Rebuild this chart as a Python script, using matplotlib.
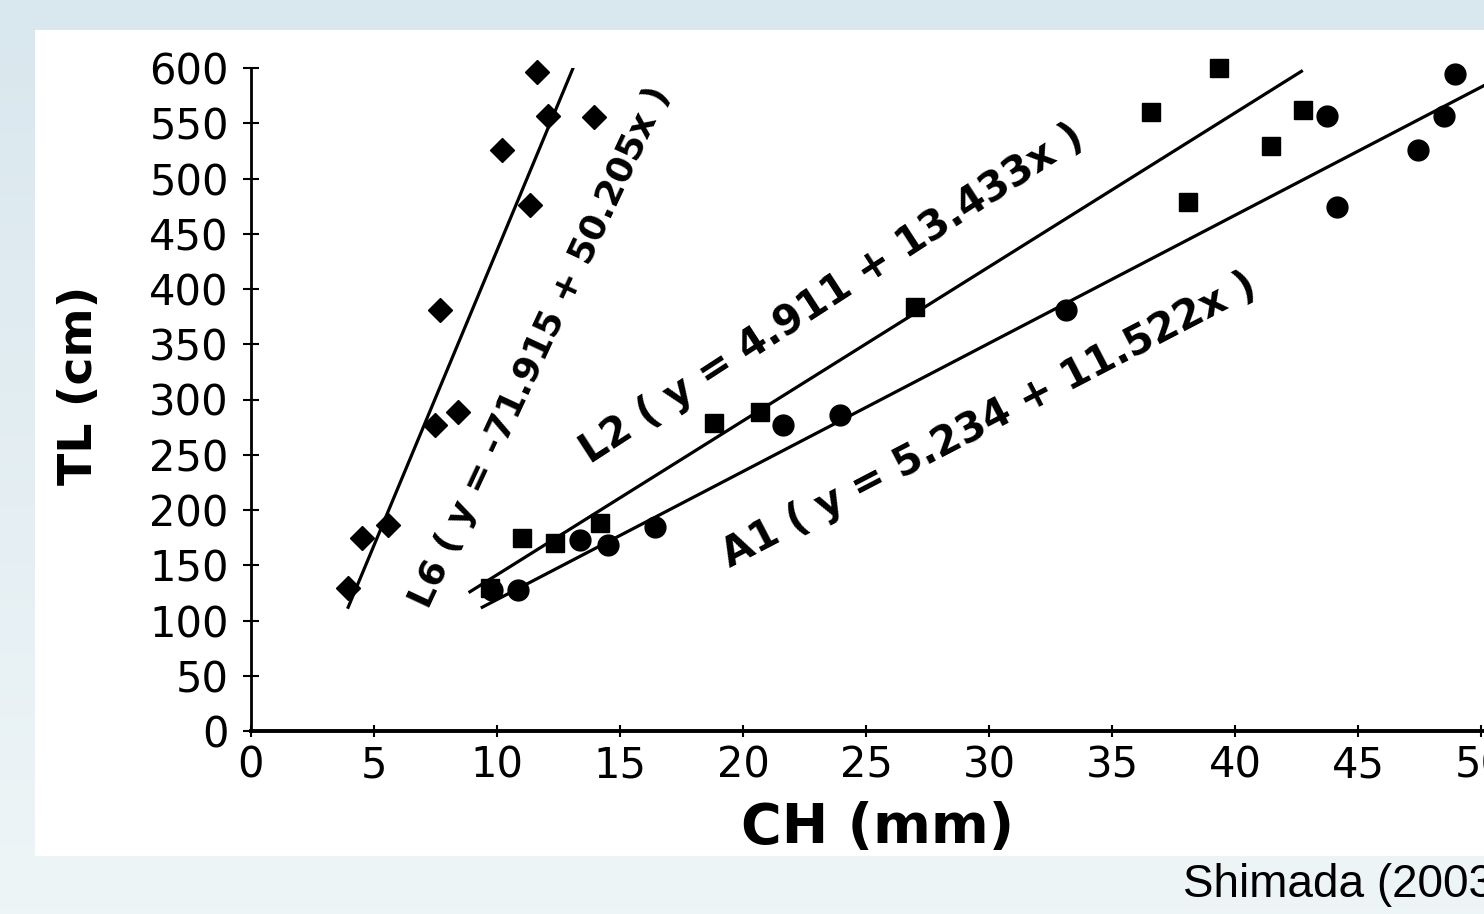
import numpy as np
import matplotlib
matplotlib.use("Agg")
import matplotlib.pyplot as plt
from matplotlib.patches import Rectangle

# données (CH en mm, TL en cm)
l6_ch = [3.94, 4.51, 5.57, 7.48, 7.68, 8.41, 10.2, 11.34, 11.63, 12.07, 13.94]
l6_tl = [129, 175, 186, 277, 381, 289, 526, 476, 596, 557, 556]

l2_ch = [9.72, 11.02, 12.36, 14.19, 18.82, 20.69, 26.99, 36.59, 38.09, 39.35, 41.46, 42.76]
l2_tl = [129, 175, 170, 188, 279, 289, 384, 560, 479, 600, 529, 562]

a1_ch = [9.8, 10.85, 13.37, 14.51, 16.42, 21.63, 23.94, 33.13, 43.74, 44.15, 47.44, 48.5, 48.94]
a1_tl = [128, 128, 173, 168, 185, 277, 286, 381, 557, 474, 526, 557, 595]

# extrémités des droites de régression telles que tracées
l6_line_x = [3.95, 13.15]
l6_line_y = [112, 603]
l2_line_x = [8.9, 42.7]
l2_line_y = [126, 597]
a1_line_x = [9.4, 50.2]
a1_line_y = [112, 585]

eq_labels = ["L6 ( y = -71.915 + 50.205x )",
             "L2 ( y = 4.911 + 13.433x )",
             "A1 ( y = 5.234 + 11.522x )"]

x_ticks = list(range(0, 51, 5))
y_ticks = list(range(0, 601, 50))

# placement des équations : (x, y, angle, taille)
eq_pos = [(11.75, 347, 65, 26), (23.6, 395, 33, 29), (30.0, 281, 27.5, 29)]

plt.rcParams['font.family'] = ['DejaVu Sans']

W, H = 1484, 914
fig = plt.figure(figsize=(W / 100, H / 100), dpi=100)

# fond dégradé bleu clair
bg = fig.add_axes([0, 0, 1, 1], zorder=-10)
grad = np.linspace(0, 1, 256).reshape(-1, 1)
cmap = matplotlib.colors.LinearSegmentedColormap.from_list("bg", ["#d9e7ee", "#eef5f7"])
bg.imshow(grad, aspect="auto", cmap=cmap, extent=[0, 1, 0, 1], origin="upper")
bg.set_axis_off()
bg.add_patch(Rectangle((35 / W, (H - 856) / H), 1 - 35 / W, (856 - 30) / H,
                       transform=bg.transAxes, facecolor="white", edgecolor="none"))

left = 251 / W
bottom = (H - 731) / H
top = (H - 68) / H
ax = fig.add_axes([left, bottom, 1 - left, top - bottom])
ax.set_facecolor("none")

ax.plot(l6_line_x, l6_line_y, color="black", lw=2.3, zorder=2)
ax.plot(l2_line_x, l2_line_y, color="black", lw=2.3, zorder=2)
ax.plot(a1_line_x, a1_line_y, color="black", lw=2.3, zorder=2)

ax.plot(l6_ch, l6_tl, "D", color="black", ms=12, ls="none", zorder=3, clip_on=False)
ax.plot(l2_ch, l2_tl, "s", color="black", ms=13, ls="none", zorder=3, clip_on=False)
ax.plot(a1_ch, a1_tl, "o", color="black", ms=15, ls="none", zorder=3, clip_on=False)

for txt, (x, y, rot, fs) in zip(eq_labels, eq_pos):
    ax.text(x, y, txt, rotation=rot, rotation_mode="anchor", ha="center", va="center",
            fontsize=fs, fontweight="bold", color="black")

ax.set_xlim(0, (W - 251) / 24.6)
ax.set_ylim(0, 600)
ax.set_xticks(x_ticks)
ax.set_yticks(y_ticks)
ax.tick_params(axis="x", direction="inout", length=9, width=1.5, labelsize=30, pad=5)
ax.tick_params(axis="y", direction="inout", length=12, width=1.5, labelsize=30, pad=10)
for s in ["top", "right"]:
    ax.spines[s].set_visible(False)
ax.spines["left"].set_linewidth(2)
ax.spines["bottom"].set_linewidth(2.8)

ax.set_xlabel("CH (mm)", fontsize=40, fontweight="bold")
ax.xaxis.set_label_coords((878 - 251) / (W - 251), -(828 - 731) / (731 - 68))
ax.xaxis.label.set_va("center")
ax.set_ylabel("TL (cm)", fontsize=34, fontweight="bold")
ax.yaxis.set_label_coords(-(251 - 80) / (W - 251), (731 - 385) / (731 - 68))
ax.yaxis.label.set_va("center")

fig.text(1183 / W, (H - 897) / H, "Shimada (2003)", fontsize=33,
         family=["Liberation Sans", "DejaVu Sans"], ha="left", va="baseline")

fig.savefig("out.png", dpi=100)
